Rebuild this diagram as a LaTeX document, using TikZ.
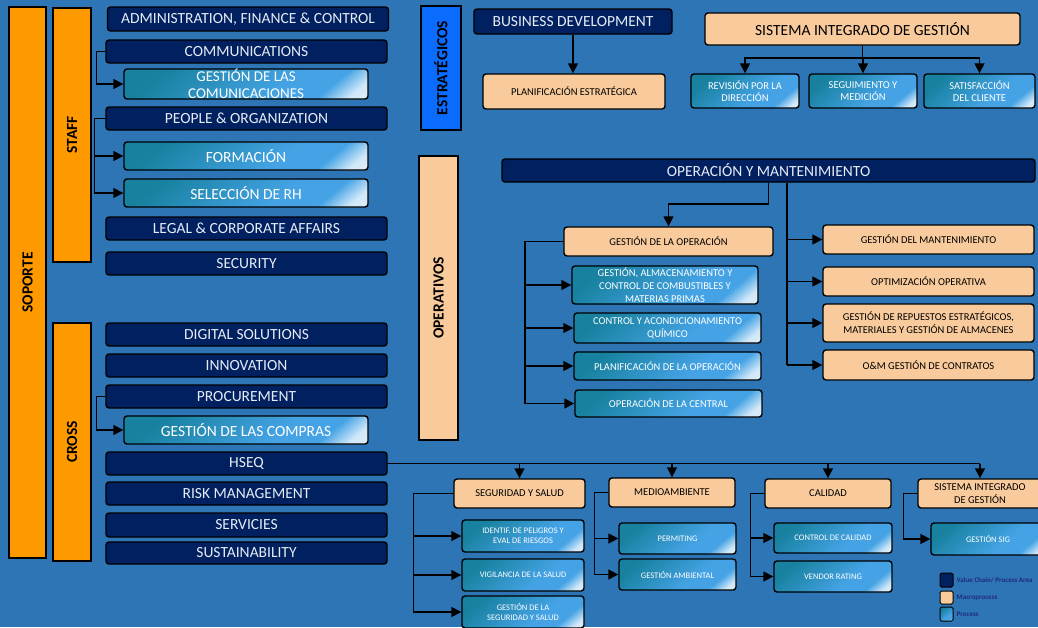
\documentclass[tikz,border=0pt]{standalone}
\usepackage{fontspec}
\setmainfont{Carlito}
\usetikzlibrary{arrows.meta,positioning}

\definecolor{bgblue}{HTML}{2E75B6}
\definecolor{navy}{HTML}{002060}
\definecolor{navytext}{HTML}{E6ECF5}
\definecolor{barorange}{HTML}{FF9900}
\definecolor{peach}{HTML}{F9CB9C}
\definecolor{procdark}{HTML}{17819F}
\definecolor{proclight}{HTML}{45A3E5}
\definecolor{stratblue}{HTML}{0A6CFF}
\definecolor{keyink}{HTML}{1F2A7A}

\pgfdeclarehorizontalshading{procshade}{100bp}{color(0bp)=(procdark); color(25bp)=(procdark); color(60bp)=(proclight); color(72bp)=(proclight); color(80bp)=(white!75!proclight); color(100bp)=(white)}

\tikzset{
  wh/.style 2 args={minimum width=#1pt, minimum height=#2pt},
  area/.style={draw=black, line width=1.4pt, rounded corners=3pt, fill=navy, text=navytext, inner sep=0pt, align=center},
  macro/.style={draw=black, line width=1.4pt, rounded corners=3pt, fill=peach, text=black, inner sep=0pt, align=center},
  proc/.style={draw=black, line width=1.4pt, rounded corners=3pt, shading=procshade, shading angle=-50, text=white, inner sep=0pt, align=center},
  bar/.style={draw=black, line width=1.4pt, fill=barorange, inner sep=0pt, rotate=90, font=\fontsize{15.5}{17}\bfseries\selectfont},
  bigtext/.style={font=\fontsize{15.5}{17}\selectfont},
  smalltext/.style={font=\fontsize{10.5}{13}\selectfont},
  tinytext/.style={font=\fontsize{8.5}{10.5}\selectfont},
  keytext/.style={text=keyink, inner sep=0pt, font=\fontsize{7}{8}\bfseries\selectfont},
  link/.style={line width=1.6pt, -{Triangle[length=10pt,width=10pt]}},
  bus/.style={line width=1.6pt},
}

\begin{document}
\begin{tikzpicture}[x=1pt, y=-1pt]
\useasboundingbox (0,0) rectangle (1038,627);
\clip (0,0) rectangle (1038,627);
\fill[bgblue] (0,0) rectangle (1038,627);

\node[bar, wh={551}{37}] (soporte) at (27.5,282.5) {SOPORTE};
\node[bar, wh={254}{38}] (staff) at (72,135) {STAFF};
\node[bar, wh={238}{38}] (cross) at (72,442) {CROSS};
\node[bar, wh={124}{40}, fill=stratblue] (estrategicos) at (441,68) {ESTRATÉGICOS};
\node[bar, wh={284}{39}, fill=peach] (operativos) at (438.5,298) {OPERATIVOS};

\begin{scope}[every node/.append style={area, bigtext, wh={281}{23}}]
  \node (admin) at (248,19) [minimum height=24pt] {ADMINISTRATION, FINANCE \& CONTROL};
  \node (comms) at (246.5,51.5) {COMMUNICATIONS};
  \node (people) at (246.5,118.5) {PEOPLE \& ORGANIZATION};
  \node (legal) at (246.5,228.5) {LEGAL \& CORPORATE AFFAIRS};
  \node (security) at (246.5,263.5) {SECURITY};
  \node (digital) at (246.5,334.5) {DIGITAL SOLUTIONS};
  \node (innovation) at (246.5,365.5) {INNOVATION};
  \node (procurement) at (246.5,396.5) {PROCUREMENT};
  \node (hseq) at (246.5,463.5) {HSEQ};
  \node (risk) at (246.5,493.5) {RISK MANAGEMENT};
  \node (servicies) at (246.5,525) [minimum height=24pt] {SERVICIES};
  \node (sustain) at (246.5,553) [minimum height=22pt] {SUSTAINABILITY};
\end{scope}

\begin{scope}[every node/.append style={proc, bigtext, wh={244}{28}}]
  \node (commsproc) at (246,84) [minimum height=30pt, font=\fontsize{15}{17}\selectfont] {GESTIÓN DE LAS\\COMUNICACIONES};
  \node (formacion) at (246,156) {FORMACIÓN};
  \node (seleccion) at (246,193) {SELECCIÓN DE RH};
  \node (compras) at (246,430) {GESTIÓN DE LAS COMPRAS};
\end{scope}

\draw[link] (comms.west) -- ++(-9,0) |- (commsproc.west);
\draw[link] (people.west) -- ++(-11,0) |- (formacion.west);
\draw[link] (people.west) -- ++(-11,0) |- (seleccion.west);
\draw[link] (procurement.west) -- ++(-9,0) |- (compras.west);

\node[area, bigtext, wh={198}{25}] (busdev) at (573,21.5) {BUSINESS DEVELOPMENT};
\node[macro, smalltext, wh={182}{35}] (planest) at (574,91.5) {PLANIFICACIÓN ESTRATÉGICA};
\node[macro, bigtext, wh={315}{32}] (sig) at (862.5,29) {SISTEMA INTEGRADO DE GESTIÓN};
\node[proc, font=\fontsize{10.5}{12.5}\selectfont, wh={108}{34}] (revision) at (745,91) {REVISIÓN POR LA\\DIRECCIÓN};
\node[proc, font=\fontsize{10.5}{12.5}\selectfont, wh={108}{34}] (seguimiento) at (863,91) {SEGUIMIENTO Y\\MEDICIÓN};
\node[proc, font=\fontsize{10.5}{12.5}\selectfont, wh={111}{34}] (satisfaccion) at (979.5,91) {SATISFACCIÓN\\DEL CLIENTE};

\coordinate (sigbus) at (862.5,58);
\draw[link] (busdev.south) -- (busdev.south |- planest.north);
\draw[bus] (sig.south) -- (sigbus);
\draw[link] (sigbus) -| (revision.north);
\draw[link] (sigbus) -| (seguimiento.north);
\draw[link] (sigbus) -| (satisfaccion.north);

\node[area, bigtext, wh={533}{23}] (oym) at (768.5,170.5) {OPERACIÓN Y MANTENIMIENTO};
\node[macro, smalltext, wh={209}{29}] (gdlo) at (668.5,241.5) {GESTIÓN DE LA OPERACIÓN};
\node[proc, smalltext, wh={186}{38}] (almacen) at (665,285) {GESTIÓN, ALMACENAMIENTO Y\\CONTROL DE COMBUSTIBLES Y\\MATERIAS PRIMAS};
\node[proc, smalltext, wh={187}{30}] (quimico) at (667.5,328) {CONTROL Y ACONDICIONAMIENTO\\QUÍMICO};
\node[proc, smalltext, wh={187}{28}] (planop) at (667.5,366) {PLANIFICACIÓN DE LA OPERACIÓN};
\node[proc, smalltext, wh={187}{27}] (central) at (668.5,403.5) {OPERACIÓN DE LA CENTRAL};
\node[macro, smalltext, wh={211}{29}] (mant) at (928.5,239.5) {GESTIÓN DEL MANTENIMIENTO};
\node[macro, smalltext, wh={211}{29}] (optim) at (928.5,281.5) {OPTIMIZACIÓN OPERATIVA};
\node[macro, smalltext, wh={211}{38}] (repuestos) at (928.5,323) {GESTIÓN DE REPUESTOS ESTRATÉGICOS,\\MATERIALES Y GESTIÓN DE ALMACENES};
\node[macro, smalltext, wh={211}{30}] (contratos) at (928.5,365) {O\&M GESTIÓN DE CONTRATOS};

\coordinate (opbus) at (525,404);
\coordinate (mbus) at (787,365);
\draw[link] (oym.south) -- ++(0,21) -| (gdlo.north);
\draw[bus] (gdlo.west) -| (opbus);
\draw[link] (opbus |- almacen.west) -- (almacen.west);
\draw[link] (opbus |- quimico.west) -- (quimico.west);
\draw[link] (opbus |- planop.west) -- (planop.west);
\draw[link] (opbus |- central.west) -- (central.west);
\draw[bus] (oym.south -| mbus) -- (mbus);
\draw[link] (mbus |- mant.west) -- (mant.west);
\draw[link] (mbus |- optim.west) -- (optim.west);
\draw[link] (mbus |- repuestos.west) -- (repuestos.west);
\draw[link] (mbus |- contratos.west) -- (contratos.west);

\node[macro, smalltext, wh={131}{29}] (seguridad) at (519.5,493.5) {SEGURIDAD Y SALUD};
\node[macro, smalltext, wh={126}{29}] (medio) at (672,492.5) {MEDIOAMBIENTE};
\node[macro, smalltext, wh={126}{29}] (calidad) at (828,493.5) {CALIDAD};
\node[macro, font=\fontsize{10.5}{13}\selectfont, wh={124}{29}] (sigqa) at (980,493.5) {SISTEMA INTEGRADO\\DE GESTIÓN};
\node[proc, tinytext, wh={122}{32}] (identif) at (523,536) {IDENTIF. DE PELIGROS Y\\EVAL DE RIESGOS};
\node[proc, tinytext, wh={122}{32}] (vigilancia) at (523,575) {VIGILANCIA DE LA SALUD};
\node[proc, tinytext, wh={122}{32}] (gestseg) at (523,612) {GESTIÓN DE LA\\SEGURIDAD Y SALUD};
\node[proc, tinytext, wh={117}{31}] (permiting) at (677.5,538.5) {PERMITING};
\node[proc, tinytext, wh={117}{31}] (ambiental) at (677.5,574.5) {GESTIÓN AMBIENTAL};
\node[proc, tinytext, wh={118}{30}] (ccalidad) at (833,538) {CONTROL DE CALIDAD};
\node[proc, tinytext, wh={118}{31}] (vendor) at (833,576.5) {VENDOR RATING};
\node[proc, tinytext, wh={114}{32}] (gsig) at (988,539) {GESTIÓN SIG};

\draw[bus] (hseq.east) -- (hseq.east -| sigqa.north);
\draw[link] (hseq.east -| seguridad.north) -- (seguridad.north);
\draw[link] (hseq.east -| medio.north) -- (medio.north);
\draw[link] (hseq.east -| calidad.north) -- (calidad.north);
\draw[link] (hseq.east -| sigqa.north) -- (sigqa.north);
\draw[link] (seguridad.west) -- ++(-40,0) |- (identif.west);
\draw[link] (seguridad.west) -- ++(-40,0) |- (vigilancia.west);
\draw[link] (seguridad.west) -- ++(-40,0) |- (gestseg.west);
\draw[link] (medio.west) -- ++(-14,0) |- (permiting.west);
\draw[link] (medio.west) -- ++(-14,0) |- (ambiental.west);
\draw[link] (calidad.west) -- ++(-14,0) |- (ccalidad.west);
\draw[link] (calidad.west) -- ++(-14,0) |- (vendor.west);
\draw[link] (sigqa.west) -- ++(-14,0) |- (gsig.west);

\node[area, wh={13}{14}, line width=1pt, rounded corners=1.5pt] (keyarea) at (946.5,580) {};
\node[macro, wh={13}{13}, line width=1pt, rounded corners=1.5pt] (keymacro) at (946.5,597.5) {};
\node[proc, wh={13}{14}, line width=1pt, rounded corners=1.5pt] (keyproc) at (946.5,614) {};
\node[keytext, right=3pt of keyarea] {Value Chain/ Process Area};
\node[keytext, right=3pt of keymacro] {Macroprocess};
\node[keytext, right=3pt of keyproc] {Process};

\end{tikzpicture}
\end{document}
